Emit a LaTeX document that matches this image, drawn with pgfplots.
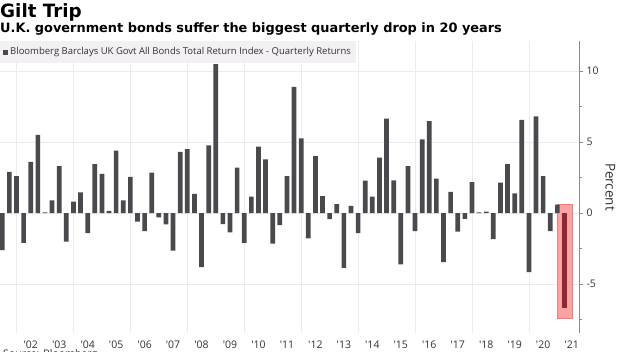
\documentclass[border=0pt]{standalone}
\usepackage{fontspec}
\setmainfont{Open Sans}
\newfontfamily\titlefont{DejaVu Sans}
\usepackage{pgfplots}
\pgfplotsset{compat=1.18}
\usepackage{pgfplotstable}

\definecolor{barc}{HTML}{4A494E}
\definecolor{gridc}{HTML}{ECEAEE}
\definecolor{legbg}{HTML}{F3F0F4}
\definecolor{boxfill}{HTML}{F9A3A3}
\definecolor{boxedge}{HTML}{E88080}
\definecolor{redbar}{HTML}{8A2A30}
\definecolor{axisc}{HTML}{8C8C8C}
\definecolor{textc}{HTML}{333333}

\pgfplotstableread{
x y
2001.50 -2.60
2001.75 2.90
2002.00 2.60
2002.25 -2.10
2002.50 3.60
2002.75 5.50
2003.00 0.05
2003.25 0.90
2003.50 3.30
2003.75 -2.00
2004.00 0.80
2004.25 1.45
2004.50 -1.40
2004.75 3.45
2005.00 2.75
2005.25 0.15
2005.50 4.40
2005.75 0.90
2006.00 2.55
2006.25 -0.60
2006.50 -1.27
2006.75 2.85
2007.00 -0.30
2007.25 -0.80
2007.50 -2.63
2007.75 4.30
2008.00 4.50
2008.25 1.36
2008.50 -3.80
2008.75 4.77
2009.00 10.47
2009.25 -0.77
2009.50 -1.36
2009.75 3.20
2010.00 -2.10
2010.25 1.15
2010.50 4.67
2010.75 3.78
2011.00 -2.14
2011.25 -0.85
2011.50 2.60
2011.75 8.87
2012.00 5.26
2012.25 -1.78
2012.50 4.00
2012.75 1.20
2013.00 -0.42
2013.25 0.63
2013.50 -3.85
2013.75 0.50
2014.00 -1.40
2014.25 2.28
2014.50 1.15
2014.75 3.90
2015.00 6.64
2015.25 2.30
2015.50 -3.60
2015.75 3.30
2016.00 -1.27
2016.25 5.19
2016.50 6.46
2016.75 2.42
2017.00 -3.45
2017.25 1.50
2017.50 -1.31
2017.75 -0.40
2018.00 2.18
2018.25 0.05
2018.50 0.10
2018.75 -1.83
2019.00 2.14
2019.25 3.45
2019.50 1.38
2019.75 6.55
2020.00 -4.15
2020.25 6.80
2020.50 2.60
2020.75 -1.27
2021.00 0.60
}\gilt

\pgfplotstableread{
x y
2021.25 -6.70
}\giltlast

\begin{document}
\begin{tikzpicture}[x=1pt,y=1pt]
\useasboundingbox (0,0) rectangle (620,351);
\begin{axis}[
  at={(0pt,18pt)}, anchor=south west,
  scale only axis, width=579pt, height=292pt,
  xmin=2001.42, xmax=2021.76, ymin=-8.43, ymax=12.1,
  ybar, bar width=4.7pt, bar shift=0pt,
  axis x line*=bottom, axis y line*=right,
  x axis line style={draw=none},
  y axis line style={draw=axisc, line width=0.8pt},
  xtick={2002.5,2003.5,2004.5,2005.5,2006.5,2007.5,2008.5,2009.5,2010.5,2011.5,2012.5,2013.5,2014.5,2015.5,2016.5,2017.5,2018.5,2019.5,2020.5,2021.5},
  xticklabels={{\textquotesingle}02,{\textquotesingle}03,{\textquotesingle}04,{\textquotesingle}05,{\textquotesingle}06,{\textquotesingle}07,{\textquotesingle}08,{\textquotesingle}09,{\textquotesingle}10,{\textquotesingle}11,{\textquotesingle}12,{\textquotesingle}13,{\textquotesingle}14,{\textquotesingle}15,{\textquotesingle}16,{\textquotesingle}17,{\textquotesingle}18,{\textquotesingle}19,{\textquotesingle}20,{\textquotesingle}21},
  minor xtick={2002,2004,2006,2008,2010,2012,2014,2016,2018,2020},
  xminorgrids, minor x grid style={draw=gridc, line width=0.7pt},
  x tick style={draw=none}, minor x tick style={draw=none},
  ytick={-5,0,5,10}, yticklabels={-5,0,5,10},
  minor ytick={-7.5,-2.5,2.5,7.5},
  ymajorgrids, major y grid style={draw=gridc, line width=0.7pt},
  tick align=outside,
  y tick style={draw=axisc, line width=0.6pt},
  major tick length=4pt, minor tick length=2.5pt,
  yticklabel pos=right,
  ticklabel style={font=\fontsize{10.5}{12}\selectfont, text=textc},
  ylabel={Percent}, ylabel near ticks,
  ylabel style={rotate=180, font=\fontsize{13.5}{15}\selectfont, text=textc},
  legend style={at={(0,1)}, anchor=north west, fill=legbg, draw=none,
    inner xsep=3pt, inner ysep=4.5pt,
    font=\fontsize{9.5}{10}\selectfont, text=textc},
  legend cell align=left,
  legend image code/.code={\fill[barc] (0pt,-2.5pt) rectangle (5pt,2.5pt);},
]
\fill[boxfill, draw=boxedge, line width=0.6pt] (axis cs:2020.99,0.65) rectangle (axis cs:2021.52,-7.37);
\addplot[fill=barc, draw=none] table[x=x,y=y] {\gilt};
\addlegendentry{Bloomberg Barclays UK Govt All Bonds Total Return Index - Quarterly Returns}
\addplot[fill=redbar, draw=none, forget plot] table[x=x,y=y] {\giltlast};
\end{axis}
\node[anchor=north west, inner sep=0pt, font=\titlefont\bfseries\fontsize{18.3}{20}\selectfont] at (0,347.5) {Gilt Trip};
\node[anchor=north west, inner sep=0pt, font=\titlefont\bfseries\fontsize{12.9}{14}\selectfont] at (0,328) {U.K. government bonds suffer the biggest quarterly drop in 20 years};
\node[anchor=north west, inner sep=0pt, font=\fontsize{10.5}{12}\selectfont, text=textc] at (3,1.5) {Source: Bloomberg};
\end{tikzpicture}
\end{document}
